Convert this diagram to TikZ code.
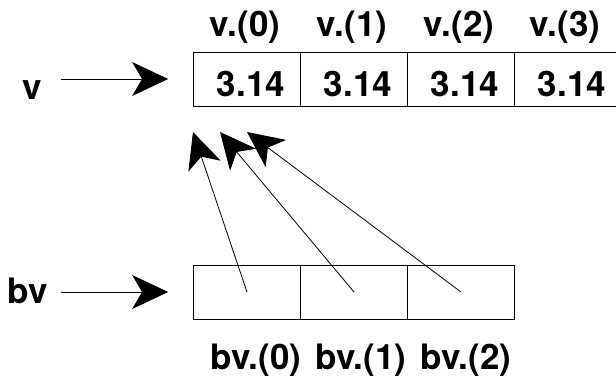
\documentclass[tikz,border=0pt]{standalone}
\usepackage{fontspec}
\setmainfont{TeX Gyre Heros}
\usetikzlibrary{arrows.meta}

\tikzset{
  cell/.style={draw, line width=0.8pt, minimum width=107pt, minimum height=54pt, inner sep=0pt},
  lbl/.style={font=\fontsize{35}{42}\selectfont\bfseries, inner sep=0pt, anchor=base},
  ptr/.style={-{Stealth[length=36pt,width=34pt,inset=10pt]}, line width=0.8pt},
}

\begin{document}
\begin{tikzpicture}[x=1pt,y=-1pt]
\useasboundingbox (0,0) rectangle (616,386);
% Array v (top)
\node[cell] (vc0) at (247,79) {};
\node[cell] (vc1) at (354,79) {};
\node[cell] (vc2) at (461,79) {};
\node[cell] (vc3) at (568,79) {};
\node[lbl] (val0) at (251,96) {3.14};
\node[lbl] (val1) at (358,96) {3.14};
\node[lbl] (val2) at (465,96) {3.14};
\node[lbl] (val3) at (572,96) {3.14};
\node[lbl] (vi0) at (245,36) {v.(0)};
\node[lbl] (vi1) at (352,36) {v.(1)};
\node[lbl] (vi2) at (459,36) {v.(2)};
\node[lbl] (vi3) at (565,36) {v.(3)};

% Name v and its pointer
\node[lbl] (v) at (32,99) {v};
\draw[ptr, shorten <=19pt, shorten >=25pt] (v.east |- vc0.west) -- (vc0.west);

% Array bv (bottom)
\node[cell] (bc0) at (247,292) {};
\node[cell] (bc1) at (354,292) {};
\node[cell] (bc2) at (461,292) {};
\node[lbl] (bi0) at (256,369) {bv.(0)};
\node[lbl] (bi1) at (361,369) {bv.(1)};
\node[lbl] (bi2) at (466,369) {bv.(2)};

% Name bv and its pointer
\node[lbl] (bv) at (27.5,303) {bv};
\draw[ptr, shorten <=13pt, shorten >=25pt] (bv.east |- bc0.west) -- (bc0.west);

% Elements of bv point into v
\coordinate (t0) at (193,132);
\coordinate (t1) at (220,132);
\coordinate (t2) at (247,132);
\draw[ptr] (bc0.center) -- (t0);
\draw[ptr] (bc1.center) -- (t1);
\draw[ptr] (bc2.center) -- (t2);
\end{tikzpicture}
\end{document}
